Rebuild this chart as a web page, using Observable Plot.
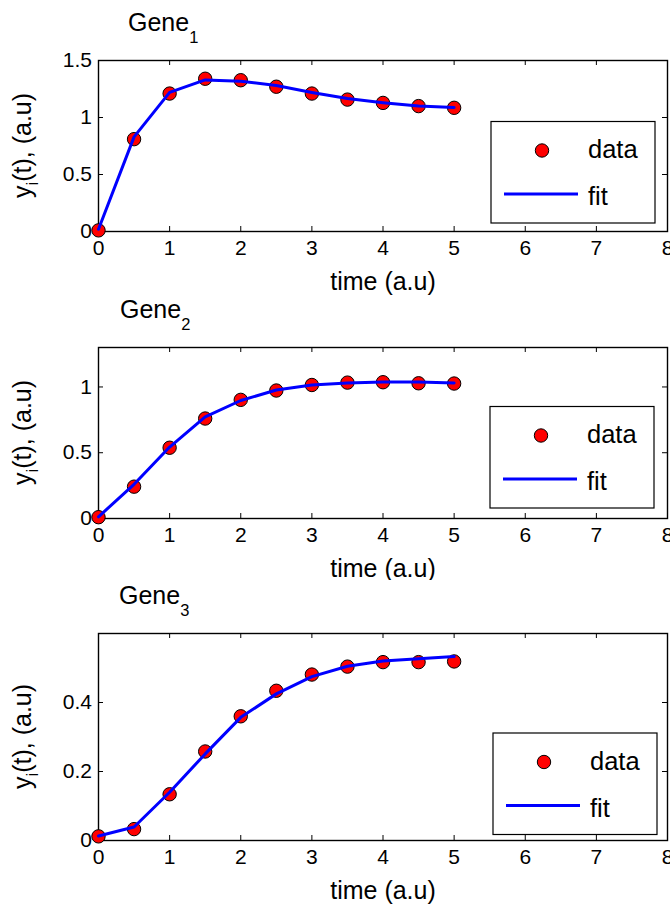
<!DOCTYPE html>
<html><head><meta charset="utf-8">
<script src="https://cdn.jsdelivr.net/npm/d3@7"></script>
<script src="https://cdn.jsdelivr.net/npm/@observablehq/plot@0.6"></script>
<style>
body{margin:0;background:#fff;}
#chart{position:relative;width:670px;height:905px;overflow:hidden;background:#fff;font-family:"Liberation Sans",Arial,sans-serif;}
#chart svg{position:absolute;left:0;overflow:visible;}
</style></head><body><div id="chart"></div>
<script>
// ---- data ----
const time = [0, 0.5, 1, 1.5, 2, 2.5, 3, 3.5, 4, 4.5, 5];
const gene1Data = [0.01, 0.81, 1.21, 1.34, 1.327, 1.27, 1.21, 1.157, 1.128, 1.10, 1.085];
const gene1Fit  = [0.02, 0.83, 1.22, 1.33, 1.318, 1.28, 1.22, 1.166, 1.13, 1.10, 1.088];
const gene2Data = [0.01, 0.242, 0.538, 0.76, 0.902, 0.973, 1.015, 1.033, 1.036, 1.028, 1.026];
const gene2Fit  = [0.013, 0.26, 0.543, 0.773, 0.897, 0.977, 1.015, 1.03, 1.038, 1.038, 1.03];
const gene3Data = [0.012, 0.033, 0.134, 0.258, 0.36, 0.434, 0.481, 0.504, 0.517, 0.517, 0.519];
const gene3Fit  = [0.013, 0.039, 0.14, 0.251, 0.357, 0.425, 0.475, 0.505, 0.52, 0.527, 0.533];
const xTicks = [0, 1, 2, 3, 4, 5, 6, 7, 8];
const gene1YTicks = [0, 0.5, 1, 1.5];
const gene2YTicks = [0, 0.5, 1];
const gene3YTicks = [0, 0.2, 0.4];
const titleName = "Gene";
const xLabel = "time (a.u)";
const legendLabels = ["data", "fit"];

// ---- layout ----
const W = 670, ML = 98, MR = 3;
const panels = [
  {data: gene1Data, fit: gene1Fit, yDomain: [0, 1.5], yTicks: gene1YTicks, sub: "1",
   top: 0, marginTop: 60, frameH: 171, marginBottom: 64, titleX: 128, legend: [491, 121.5]},
  {data: gene2Data, fit: gene2Fit, yDomain: [0, 1.3], yTicks: gene2YTicks, sub: "2",
   top: 295, marginTop: 52, frameH: 171, marginBottom: 62, titleX: 120, legend: [490, 406.5]},
  {data: gene3Data, fit: gene3Fit, yDomain: [0, 0.6], yTicks: gene3YTicks, sub: "3",
   top: 580, marginTop: 53, frameH: 207, marginBottom: 65, titleX: 119, legend: [493, 733]}
];
const font = "Liberation Sans, Arial, sans-serif";
const chart = document.getElementById("chart");

for (const p of panels) {
  const rows = time.map((t, i) => ({t, y: p.data[i], f: p.fit[i]}));
  const H = p.marginTop + p.frameH + p.marginBottom;
  const frameW = W - ML - MR;
  const svg = Plot.plot({
    width: W, height: H,
    marginLeft: ML, marginRight: MR, marginTop: p.marginTop, marginBottom: p.marginBottom,
    style: {fontFamily: font, fontSize: "21px", color: "black", background: "white", overflow: "visible"},
    x: {domain: [0, 8]},
    y: {domain: p.yDomain},
    marks: [
      Plot.axisX({ticks: xTicks, tickSize: 0, tickPadding: 8.5, tickFormat: d => String(d), label: null, fontSize: 21}),
      Plot.axisY({ticks: p.yTicks, tickSize: 0, tickPadding: 6.5, tickFormat: d => String(d), label: null, fontSize: 21}),
      Plot.tickX(xTicks, {x: d => d, insetTop: p.frameH - 5, stroke: "black", strokeWidth: 1}),
      Plot.tickX(xTicks, {x: d => d, insetBottom: p.frameH - 5, stroke: "black", strokeWidth: 1}),
      Plot.tickY(p.yTicks, {y: d => d, insetLeft: frameW - 5, stroke: "black", strokeWidth: 1}),
      Plot.tickY(p.yTicks, {y: d => d, insetRight: frameW - 5, stroke: "black", strokeWidth: 1}),
      Plot.frame({stroke: "black", strokeWidth: 1.4}),
      Plot.dot(rows, {x: "t", y: "y", r: 6.7, fill: "#ff0000", stroke: "black", strokeWidth: 1}),
      Plot.line(rows, {x: "t", y: "f", stroke: "#0000ff", strokeWidth: 3}),
      Plot.text([xLabel], {frameAnchor: "bottom", dy: 58, lineAnchor: "bottom", fontSize: 25, fill: "black"})
    ]
  });
  svg.style.top = p.top + "px";
  const s = d3.select(svg);
  // title with subscript
  const t = s.append("text").attr("x", p.titleX).attr("y", p.marginTop - 29.5)
    .attr("text-anchor", "start")
    .attr("font-size", 25).attr("font-family", font).attr("fill", "black");
  t.append("tspan").text(titleName);
  t.append("tspan").attr("font-size", 16.5).attr("dy", 12).text(p.sub);
  // y label
  const yl = s.append("text")
    .attr("transform", `translate(31,${p.marginTop + p.frameH / 2}) rotate(-90)`)
    .attr("text-anchor", "middle").attr("font-size", 25).attr("font-family", font).attr("fill", "black");
  yl.append("tspan").text("y");
  yl.append("tspan").attr("font-size", 17).attr("dy", 7).text("i");
  yl.append("tspan").attr("dy", -7).text("(t), (a.u)");
  // legend
  const g = s.append("g").attr("transform", `translate(${p.legend[0]},${p.legend[1] - p.top})`)
    .attr("text-anchor", "start");
  g.append("rect").attr("width", 164).attr("height", 101.5).attr("fill", "white").attr("stroke", "black").attr("stroke-width", 1.2);
  g.append("circle").attr("cx", 51).attr("cy", 29).attr("r", 6.7).attr("fill", "#ff0000").attr("stroke", "black");
  g.append("text").attr("x", 97).attr("y", 36.5).attr("text-anchor", "start").attr("font-size", 25.5).attr("font-family", font).attr("fill", "black").text(legendLabels[0]);
  g.append("line").attr("x1", 13).attr("x2", 87).attr("y1", 72.5).attr("y2", 72.5).attr("stroke", "#0000ff").attr("stroke-width", 3);
  g.append("text").attr("x", 97).attr("y", 83.5).attr("text-anchor", "start").attr("font-size", 25.5).attr("font-family", font).attr("fill", "black").text(legendLabels[1]);
  chart.appendChild(svg);
}
</script></body></html>
